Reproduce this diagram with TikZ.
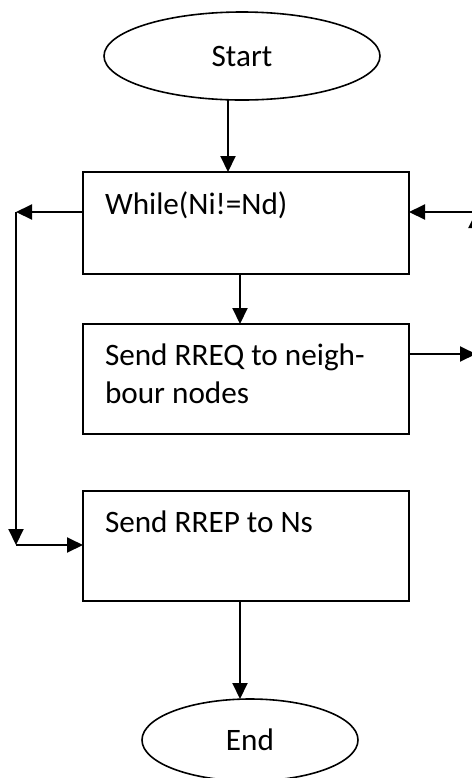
\documentclass[tikz,border=0pt]{standalone}
\usepackage{fontspec}
\setmainfont{Carlito}
\usetikzlibrary{calc,
shapes.geometric,
arrows.meta,
positioning}

\begin{document}
\begin{tikzpicture} [x=0.5pt, y=-0.5pt,
    >={Triangle[length=8pt, width=7.5pt]},
    line width=1pt,
    font=\fontsize{15.6}{19}\selectfont,
    term node/.style={ellipse, draw, line width=0.8pt, outer sep=0pt},
    main node/.style={rectangle, draw, outer sep=0pt,
        minimum width=163pt},
    box text/.style={anchor=north west, inner sep=0pt, align=left}
  ]

  \useasboundingbox (0, 0) rectangle (472, 778);
  \clip (0, 0) rectangle (472, 778);

  \node [term node,
    minimum width = 138pt,
    minimum height = 44pt
  ] (start) at (242, 56) {Start\hspace{7pt}};

  \node [main node,
    minimum height = 51pt
  ] (while) at (246, 223) {};
  \node [box text] (whiletxt) at ($(while.north west) + (21, 19)$) {While(Ni!=Nd)};

  \node [main node,
    minimum height = 55pt,
    below = 25pt of while
  ] (rreq) {};
  \node [box text] (rreqtxt) at ($(rreq.north west) + (21, 19)$) {Send RREQ to neigh-\\bour nodes};

  \node [main node,
    minimum height = 55pt,
    below = 28.5pt of rreq
  ] (rrep) {};
  \node [box text] (rreptxt) at ($(rrep.north west) + (21, 19)$) {Send RREP to Ns};

  \node [term node,
    minimum width = 108pt,
    minimum height = 41pt,
    below = 49pt of rrep,
    xshift = 2pt
  ] (stop) {End\hspace{7pt}};

  %%%%%%%%%%%%%%%%%%%%%%%%%%%%%%

  \coordinate (lt) at (16, 212);
  \coordinate (lb) at (16, 545);
  \coordinate (rt) at (476, 212);
  \coordinate (rm) at (476, 354);

  \draw [->] ($(start.south) + (-14, 0)$) -- ($(while.north) + (-18, 0)$);
  \draw [->] ($(while.south) + (-6, 0)$) -- ($(rreq.north) + (-6, 0)$);
  \draw [->] ($(rrep.south) + (-6, 0)$) coordinate (rd) -- (rd |- stop.north);

  \draw [->] ($(while.west) + (0, -11)$) -- (lt);
  \draw [->] (lt) -- (lb);
  \draw [->] (lb) -- (rrep.west |- lb);

  \draw [->] ($(rreq.east) + (0, -25)$) -- (rm);
  \draw [->] (rm) -- (rt);
  \draw [->] (rt) -- ($(while.east) + (0, -11)$);

\end{tikzpicture}
\end{document}
